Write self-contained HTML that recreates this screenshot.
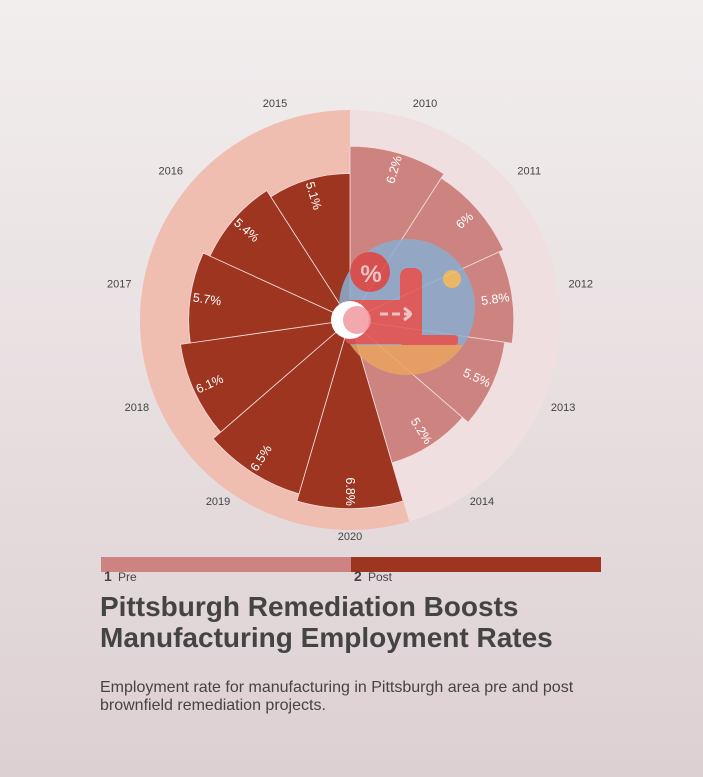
<!DOCTYPE html>
<html><head><meta charset="utf-8">
<style>
html,body{margin:0;padding:0}
body{width:703px;height:777px;background:linear-gradient(#f2eeee,#ddd0d3);font-family:"Liberation Sans",sans-serif;position:relative;overflow:hidden}
#title{position:absolute;left:100px;top:591px;margin:0;font-size:28px;font-weight:bold;color:#444;line-height:31px}
#sub{position:absolute;left:100px;top:679px;margin:0;font-size:16px;color:#444;line-height:18px}
</style></head><body>
<svg id="chart" width="703" height="590" style="position:absolute;left:0;top:0"></svg>
<h1 id="title">Pittsburgh Remediation Boosts<br>Manufacturing Employment Rates</h1>
<p id="sub">Employment rate for manufacturing in Pittsburgh area pre and post<br>brownfield remediation projects.</p>
<script>
const years=["2010","2011","2012","2013","2014","2020","2019","2018","2017","2016","2015"];
const values=[6.2,6.0,5.8,5.5,5.2,6.8,6.5,6.1,5.7,5.4,5.1];
const groups=["pre","pre","pre","pre","pre","post","post","post","post","post","post"];
const groupNames=["Pre","Post"];
const colors={pre:"#cd8480",post:"#9e3520"};
const ringColors={pre:"#f0dfe0",post:"#f0bdb1"};
const NS="http://www.w3.org/2000/svg";
const svg=document.getElementById('chart');
const cx=350,cy=320,r0=20,k=24.8,R=210;
const n=years.length,step=360/n;
function rad(v){return r0+k*v;}
function pt(a,r){const t=a*Math.PI/180;return [cx+r*Math.sin(t),cy-r*Math.cos(t)];}
function mk(tag,attrs){const e=document.createElementNS(NS,tag);for(const a in attrs)e.setAttribute(a,attrs[a]);svg.appendChild(e);return e;}
const preCount=groups.filter(g=>g==="pre").length;
[["pre",0,preCount*step],["post",preCount*step,360]].forEach(([g,a0,a1])=>{
  const p0=pt(a0,R),p1=pt(a1,R);
  const e=mk('path',{d:`M${cx},${cy}L${p0[0]},${p0[1]}A${R},${R} 0 ${a1-a0>180?1:0} 1 ${p1[0]},${p1[1]}Z`,fill:ringColors[g]});
  
  
});
for(let i=0;i<n;i++){
  const a0=i*step,a1=(i+1)*step,r=rad(values[i]);
  const p0=pt(a0,r),p1=pt(a1,r);
  const b=mk('path',{d:`M${cx},${cy}L${p0[0]},${p0[1]}A${r},${r} 0 0 1 ${p1[0]},${p1[1]}Z`,fill:colors[groups[i]],stroke:"#f4dede","stroke-width":0.8});
  
  
}
const ig=mk('g',{opacity:0.85});


function ic(tag,attrs){const e=document.createElementNS(NS,tag);for(const a in attrs)e.setAttribute(a,attrs[a]);ig.appendChild(e);return e;}
ic('clipPath',{id:'cc'}).innerHTML='<circle cx="407" cy="307" r="68"/>';
ic('circle',{cx:407,cy:307,r:68,fill:"#8aaed0"});
ic('rect',{x:339,y:345,width:140,height:40,fill:"#eaa460","clip-path":"url(#cc)"});
ic('rect',{x:345,y:300,width:65,height:44,rx:6,fill:"#e05555"});
ic('rect',{x:400,y:268,width:22,height:72,rx:8,fill:"#e05555"});
ic('rect',{x:400,y:335,width:58,height:10,rx:3,fill:"#e05555"});
ic('circle',{cx:370,cy:272,r:20,fill:"#d84848"});
ic('circle',{cx:452,cy:279,r:9,fill:"#f0c060"});
const pc=ic('text',{x:371,y:282,"font-size":24,"font-weight":"bold",fill:"#f3d0d0","text-anchor":"middle","font-family":"Liberation Sans"});pc.textContent="%";
ic('path',{d:"M380,314h32M404,308l8,6l-8,6",stroke:"#f3d0d0","stroke-width":3,fill:"none","stroke-dasharray":"8 4"});
const hole=mk('circle',{cx:350,cy:320,r:19,fill:"#fff"});


mk('circle',{cx:357,cy:320,r:14,fill:"#ef9aa0",opacity:0.85});
for(let i=0;i<n;i++){
  const am=(i+0.5)*step,r=rad(values[i]);
  const p=pt(am,r-17);
  let rot=am-90; if(rot>90.5) rot-=180;
  const t=mk('text',{x:p[0],y:p[1],"text-anchor":"middle","dominant-baseline":"central","font-size":12.5,fill:"#fff",transform:`rotate(${rot} ${p[0]} ${p[1]})`});
  t.textContent=values[i]+"%";
  
  
  const s=Math.sin(am*Math.PI/180),c=Math.cos(am*Math.PI/180);
  const sg=Math.abs(s)<0.01?0:Math.sign(s);
  const y=mk('text',{x:cx+220*s+13*sg,y:316-221*c,"text-anchor":"middle","dominant-baseline":"central","font-size":11,fill:"#444"});
  y.textContent=years[i];
  
  
}
groupNames.forEach((g,j)=>{
  const key=g.toLowerCase();
  const x=101+j*250;
  const r=mk('rect',{x:x,y:557,width:250,height:15,fill:colors[key]});
  
  
  const num=mk('text',{x:x+3,y:581,"font-size":14,"font-weight":"bold",fill:"#444"});num.textContent=(j+1);
  
  
  const l=mk('text',{x:x+17,y:581,"font-size":12,fill:"#444"});l.textContent=g;
  
  
});
</script>
</body></html>
